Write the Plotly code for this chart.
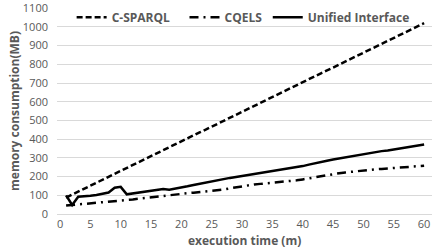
import plotly.graph_objects as go

minutes = list(range(1, 61))

csparql = [88, 104, 120, 135, 151, 167, 183, 199, 214, 230,
           246, 262, 278, 293, 309, 325, 341, 357, 372, 388,
           404, 420, 436, 451, 467, 483, 499, 515, 530, 546,
           562, 578, 594, 609, 625, 641, 657, 673, 688, 704,
           720, 736, 752, 767, 783, 799, 815, 831, 846, 862,
           878, 894, 910, 925, 941, 957, 973, 989, 1004, 1020]

cqels = [45, 48, 50, 53, 55, 57, 60, 62, 65, 70,
         74, 78, 82, 86, 90, 93, 96, 100, 104, 107,
         111, 114, 117, 120, 122, 126, 131, 137, 143, 149,
         154, 158, 161, 164, 166, 168, 171, 175, 180, 185,
         191, 196, 201, 207, 213, 218, 222, 226, 230, 234,
         237, 239, 241, 244, 247, 250, 253, 255, 256, 258]

unified = [100, 48, 92, 97, 98, 102, 108, 115, 140, 145,
           105, 110, 115, 120, 125, 130, 133, 130, 135, 142,
           148, 155, 162, 168, 175, 183, 188, 193, 198, 203,
           209, 214, 218, 223, 229, 235, 241, 246, 251, 256,
           264, 272, 279, 285, 291, 297, 303, 309, 314, 319,
           325, 331, 336, 340, 345, 350, 356, 362, 367, 372]

x_ticks = list(range(0, 61, 5))
y_ticks = list(range(0, 1101, 100))

grey = "#595959"
legend_font = dict(size=12, color=grey, family="Open Sans, sans-serif", weight="bold")

fig = go.Figure()
fig.add_trace(go.Scatter(x=minutes, y=csparql, mode="lines", name="C-SPARQL",
                         legend="legend",
                         line=dict(color="black", width=2.5, dash="6px,3px")))
fig.add_trace(go.Scatter(x=minutes, y=cqels, mode="lines", name="CQELS",
                         legend="legend2",
                         line=dict(color="black", width=2.5, dash="9px,5px,2px,5px")))
fig.add_trace(go.Scatter(x=minutes, y=unified, mode="lines", name="Unified Interface",
                         legend="legend3",
                         line=dict(color="black", width=2.5)))


def leg(xpos):
    return dict(orientation="h", x=xpos, y=0.955, xanchor="left", yanchor="middle",
                bgcolor="rgba(255,255,255,0)", font=legend_font, itemwidth=30)


fig.update_layout(
    width=432, height=248,
    margin=dict(l=57, r=0, t=8, b=34),
    paper_bgcolor="white", plot_bgcolor="white",
    font=dict(family="Open Sans, sans-serif", color=grey, size=11),
    showlegend=True,
    legend=leg(0.039),
    legend2=leg(0.340),
    legend3=leg(0.562),
    xaxis=dict(range=[-0.5, 61.3], tickvals=x_ticks, ticktext=[str(v) for v in x_ticks],
               showgrid=False, zeroline=False, showline=False, ticks="", ticklen=0,
               ticklabelstandoff=2, ticklabeloverflow="allow",
               tickfont=dict(size=11, color=grey)),
    yaxis=dict(range=[0, 1101], tickvals=y_ticks, ticktext=[str(v) for v in y_ticks],
               showgrid=True, gridcolor="#d9d9d9", gridwidth=1,
               zeroline=True, zerolinecolor="#d9d9d9", zerolinewidth=1,
               showline=False, ticks="", ticklen=0, ticklabelstandoff=8,
               ticklabeloverflow="allow",
               tickfont=dict(size=11, color=grey),
               title=dict(text="memory consumption(MB)", standoff=0,
                          font=dict(size=12, color=grey, weight="bold"))),
    annotations=[dict(text="execution time (m)", xref="paper", yref="paper",
                      x=0.5, y=-0.131, xanchor="center", yanchor="middle",
                      showarrow=False,
                      font=dict(size=12, color=grey, family="Open Sans, sans-serif",
                                weight="bold"))],
)

fig.write_html("out.html", config={"displayModeBar": False},
               post_script="document.body.style.margin='0px';")
